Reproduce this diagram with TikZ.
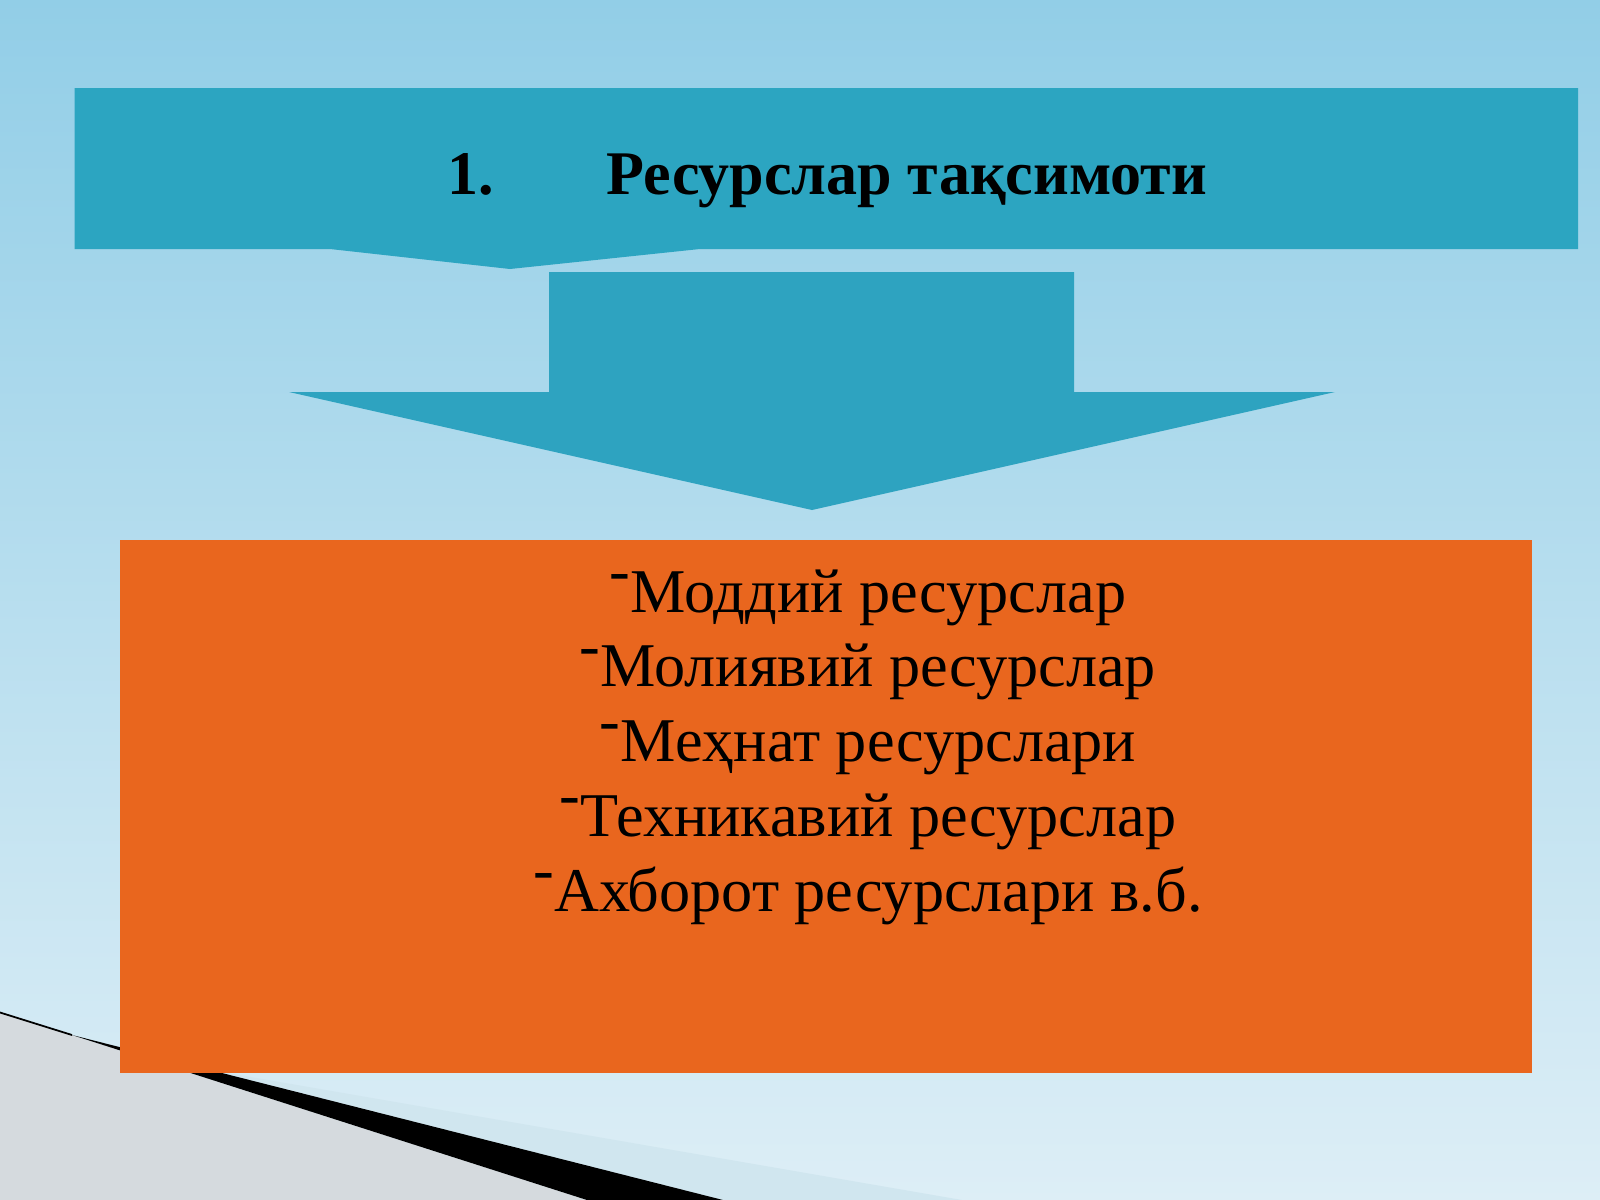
\documentclass[tikz,border=0pt]{standalone}
\usepackage{fontspec}
\setmainfont{Liberation Serif}
\definecolor{bgtop}{HTML}{92CEE7}
\definecolor{bgmid}{HTML}{BCE0F0}
\definecolor{bgbot}{HTML}{DDEEF6}
\definecolor{bannercol}{HTML}{2CA5C1}
\definecolor{arrowcol}{HTML}{2EA3C0}
\definecolor{orangecol}{HTML}{E9661E}
\definecolor{greycol}{HTML}{D5DADE}
\definecolor{bandcol}{HTML}{D0E6EF}
\tikzset{
  titletext/.style={inner sep=0pt, anchor=base west, font=\fontsize{17.65}{21}\selectfont\bfseries},
  listtext/.style={inner sep=0pt, anchor=base, text height=0.72em, text depth=0.2em, font=\fontsize{17.7}{21}\selectfont}
}
\newcommand{\rdash}{\raisebox{0.33em}{-}}
\begin{document}
\begin{tikzpicture}[x=0.01cm,y=-0.01cm]
\useasboundingbox (0,0) rectangle (1600,1200);
% background
\shade[top color=bgtop, middle color=bgmid, bottom color=bgbot] (0,0) rectangle (1600,1200);
% bottom-left decoration
\fill[greycol] (0,1012) -- (587,1200) -- (0,1200) -- cycle;
\fill[bandcol] (216,1071) -- (962,1200) -- (723,1200) -- cycle;
\fill[black] (72,1035) -- (723,1200) -- (587,1200) -- cycle;
\draw[black, line width=0.5pt] (0,1012.5) -- (72,1035);
% banner with notch
\fill[bannercol] (74.5,88) -- (1578,88) -- (1578,249) -- (700,249) -- (510,269) -- (330,249) -- (74.5,249) -- cycle;
% down arrow
\fill[arrowcol] (549,272) -- (1074,272) -- (1074,392) -- (1335,392) -- (812,510) -- (289,392) -- (549,392) -- cycle;
% orange box
\fill[orangecol] (120,540) rectangle (1532,1073);
% title
\node[titletext] (num) at (447,194) {1.};
\node[titletext] (title) at (606,194) {Ресурслар тақсимоти};
% list
\foreach \t [count=\i] in {Моддий ресурслар, Молиявий ресурслар, Меҳнат ресурслари, Техникавий ресурслар, Ахборот ресурслари в.б.}{
  \node[listtext] (item\i) at (868,{612+74.8*(\i-1)}) {\rdash\t};
}
\end{tikzpicture}
\end{document}
